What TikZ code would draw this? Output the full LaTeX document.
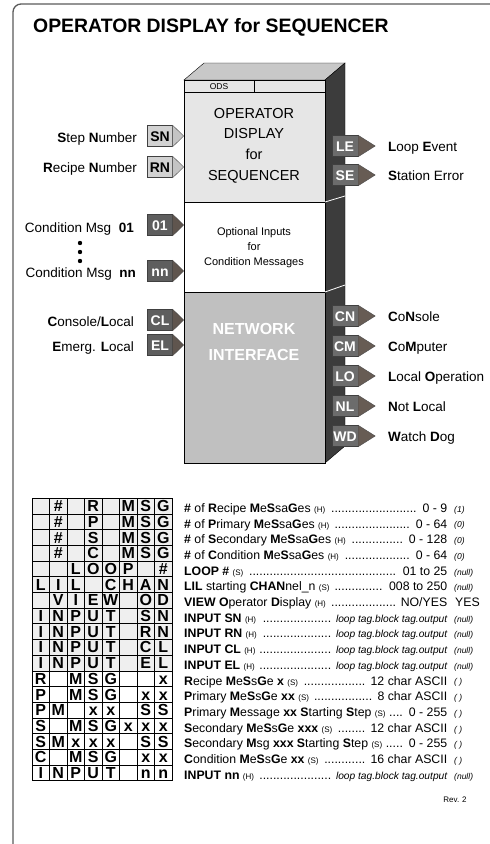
\documentclass[tikz,border=0pt]{standalone}
\usepackage{fontspec}
\setmainfont{Liberation Sans}
\definecolor{pinlight}{HTML}{D2D2D2}
\definecolor{pinlighttip}{HTML}{C4C4C4}
\definecolor{pindark}{HTML}{5E5E5E}
\definecolor{pindarktip}{HTML}{5F554E}
\definecolor{pinout}{HTML}{6C6C6C}
\definecolor{pinouttip}{HTML}{675C54}
\definecolor{faceupper}{HTML}{E6E6E6}
\definecolor{facelower}{HTML}{C0C0C0}
\definecolor{facetop}{HTML}{C8C8C8}
\definecolor{faceside}{HTML}{3C3C3C}
\definecolor{framegray}{HTML}{5A5A5A}
\definecolor{tablegray}{HTML}{EFEFEF}
\newcommand{\fs}[1]{\fontsize{#1}{#1}\selectfont}
\newcommand{\hz}[1]{{\fs{8}#1}}
\newcommand{\tagout}{{\fs{10.2}\itshape loop tag.block tag.output}}
\newcommand{\dotrow}[2]{\hbox to 263pt{#1\ \leaders\hbox{.}\hfill\ #2}}
\tikzset{
  capbox/.style={inner sep=0pt,text depth=0pt},
  inpin/.style={capbox,draw=black!75,fill=pinlight,minimum width=25pt,minimum height=21pt,text height=10pt,font=\fs{14}\bfseries},
  darkpin/.style={inpin,fill=pindark,text=white},
  outpin/.style={inpin,fill=pinout,text=white,minimum width=26pt},
  lbl/.style={capbox,text height=9.7pt,font=\fs{13.5}},
  blocktxt/.style={capbox,text height=10.4pt,font=\fs{14.5}},
  opttxt/.style={capbox,text height=7.9pt,font=\fs{11}},
  nettxt/.style={capbox,text height=11.5pt,font=\fs{16}\bfseries,text=white},
  cell/.style={capbox,draw,minimum width=17.5pt,minimum height=15.7pt,text height=11.5pt,font=\fs{16}\bfseries},
  rowtxt/.style={capbox,anchor=west,text height=8.8pt,font=\fs{12.3}},
  rownote/.style={capbox,anchor=west,text height=6.1pt,font=\fs{8.5}\itshape},
}
\begin{document}
\begin{tikzpicture}[x=1pt,y=-1pt]
\useasboundingbox (0,0) rectangle (490,844);
\draw[framegray,line width=1.3pt,rounded corners=8pt] (13,844) -- (13,4) -- (490,4);
\node[capbox,anchor=west,text height=13.9pt,font=\fs{19.4}\bfseries] (title) at (33,25.5) {OPERATOR DISPLAY for SEQUENCER};

\filldraw[fill=facetop,draw=black] (184,80) -- (204,63) -- (345,63) -- (325,80) -- cycle;
\filldraw[fill=faceside,draw=black] (325,80) -- (345,63) -- (345,446) -- (325,463) -- cycle;
\filldraw[fill=faceupper,draw=black] (184,80) rectangle (325,202);
\filldraw[fill=white,draw=black] (184,202) rectangle (325,292);
\filldraw[fill=facelower,draw=black] (184,292) rectangle (325,463);
\draw (184,92) -- (325,92);
\draw (254,80) -- (254,92);
\draw[white,thick] (325,202) -- (345,196);
\draw[white,thick] (325,292) -- (345,285);

\node[capbox,text height=6.1pt,font=\fs{8.5}] (ods) at (219,86.5) {ODS};
\node[blocktxt] (op1) at (254,113) {OPERATOR};
\node[blocktxt] (op2) at (254,133.5) {DISPLAY};
\node[blocktxt] (op3) at (254,154) {for};
\node[blocktxt] (op4) at (254,175) {SEQUENCER};
\node[opttxt] (opt1) at (254,232) {Optional Inputs};
\node[opttxt] (opt2) at (254,246.5) {for};
\node[opttxt] (opt3) at (254,262) {Condition Messages};
\node[nettxt] (net1) at (254,328.5) {NETWORK};
\node[nettxt] (net2) at (254,355) {INTERFACE};

\node[inpin] (sn) at (160,136) {SN};
\node[inpin] (rn) at (160,167) {RN};
\foreach \p in {sn,rn}
  \filldraw[fill=pinlighttip,draw=black!70] (\p.north east) -- ([xshift=11pt]\p.east) -- (\p.south east) -- cycle;
\node[darkpin] (c01) at (160,225) {01};
\node[darkpin] (cnn) at (160,271) {nn};
\node[darkpin] (cl) at (160,320) {CL};
\node[darkpin] (el) at (160,345) {EL};
\foreach \p in {c01,cnn,cl,el}
  \filldraw[fill=pindarktip,draw=black!70] (\p.north east) -- ([xshift=11pt]\p.east) -- (\p.south east) -- cycle;

\node[lbl,anchor=east] (snl) at (137,138) {\textbf{S}tep \textbf{N}umber};
\node[lbl,anchor=east] (rnl) at (137,168) {\textbf{R}ecipe \textbf{N}umber};
\node[lbl,anchor=east] (c01l) at (134,228) {Condition Msg\ \ \textbf{01}};
\node[lbl,anchor=east] (cnnl) at (136,273) {Condition Msg\ \ \textbf{nn}};
\node[lbl,anchor=east] (cll) at (134,322) {\textbf{C}onsole/\textbf{L}ocal};
\node[lbl,anchor=east] (ell) at (134,347) {\textbf{E}merg. \textbf{L}ocal};
\fill (80,243) circle (2.2);
\fill (80,252) circle (2.2);
\fill (80,261) circle (2.2);

\foreach \nm/\y/\lab in {le/146/{\textbf{L}oop \textbf{E}vent},se/175/{\textbf{S}tation Error},
    cn/316/{\textbf{C}o\textbf{N}sole},cm/346/{\textbf{C}o\textbf{M}puter},lo/376/{\textbf{L}ocal \textbf{O}peration},
    nl/406/{\textbf{N}ot \textbf{L}ocal},wd/436/{\textbf{W}atch \textbf{D}og}}{
  \node[outpin] (\nm) at (345,\y) {\MakeUppercase{\nm}};
  \filldraw[fill=pinouttip,draw=black!70] (\nm.north east) -- ([xshift=17pt]\nm.east) -- (\nm.south east) -- cycle;
  \node[lbl,anchor=west] (\nm l) at (388,\y+1) {\lab};
}

\fill[tablegray] (32,498) rectangle (172,670.7);
\foreach \row [count=\r] in {{,\#,,R,,M,S,G},{,\#,,P,,M,S,G},{,\#,,S,,M,S,G},{,\#,,C,,M,S,G},
    {,,L,O,O,P,,\#},{L,I,L,,C,H,A,N},{,V,I,E,W,,O,D},{I,N,P,U,T,,S,N},{I,N,P,U,T,,R,N},
    {I,N,P,U,T,,C,L},{I,N,P,U,T,,E,L},{R,,M,S,G,,,x},{P,,M,S,G,,x,x},{P,M,,x,x,,S,S},
    {S,,M,S,G,x,x,x},{S,M,x,x,x,,S,S},{C,,M,S,G,,x,x},{I,N,P,U,T,,n,n}}{
  \foreach \ch [count=\c] in \row
    \node[cell] (cell-\r-\c) at ({32+17.5*\c-8.75},{498+15.7*\r-7.85}) {\ch};
}
\draw[line width=1pt] (32,498) rectangle (172,780.6);

\foreach \txt/\val/\nt [count=\r] in {
    {\textbf{\#} of \textbf{R}ecipe \textbf{M}e\textbf{S}sa\textbf{G}es \hz{(H)}}/{0 - 9}/{(1)},
    {\textbf{\#} of \textbf{P}rimary \textbf{M}e\textbf{S}sa\textbf{G}es \hz{(H)}}/{0 - 64}/{(0)},
    {\textbf{\#} of \textbf{S}econdary \textbf{M}e\textbf{S}sa\textbf{G}es \hz{(H)}}/{0 - 128}/{(0)},
    {\textbf{\#} of \textbf{C}ondition \textbf{M}e\textbf{S}sa\textbf{G}es \hz{(H)}}/{0 - 64}/{(0)},
    {\textbf{LOOP \#} \hz{(S)}}/{01 to 25}/{(null)},
    {\textbf{LIL} starting \textbf{CHAN}nel\_n \hz{(S)}}/{008 to 250}/{(null)},
    {\textbf{VIEW O}perator \textbf{D}isplay \hz{(H)}}/{NO/YES}/{},
    {\textbf{INPUT SN} \hz{(H)}}/{\tagout}/{(null)},
    {\textbf{INPUT RN} \hz{(H)}}/{\tagout}/{(null)},
    {\textbf{INPUT CL} \hz{(H)}}/{\tagout}/{(null)},
    {\textbf{INPUT EL} \hz{(H)}}/{\tagout}/{(null)},
    {\textbf{R}ecipe \textbf{M}e\textbf{S}s\textbf{G}e \textbf{x} \hz{(S)}}/{12 char ASCII}/{( )},
    {\textbf{P}rimary \textbf{M}e\textbf{S}s\textbf{G}e \textbf{xx} \hz{(S)}}/{8 char ASCII}/{( )},
    {\textbf{P}rimary \textbf{M}essage \textbf{xx} \textbf{S}tarting \textbf{S}tep \hz{(S)}}/{0 - 255}/{( )},
    {\textbf{S}econdary \textbf{M}e\textbf{S}s\textbf{G}e \textbf{xxx} \hz{(S)}}/{12 char ASCII}/{( )},
    {\textbf{S}econdary \textbf{M}sg \textbf{xxx} \textbf{S}tarting \textbf{S}tep \hz{(S)}}/{0 - 255}/{( )},
    {\textbf{C}ondition \textbf{M}e\textbf{S}s\textbf{G}e \textbf{xx} \hz{(S)}}/{16 char ASCII}/{( )},
    {\textbf{INPUT nn} \hz{(H)}}/{\tagout}/{(null)}}{
  \node[rowtxt] (row\r) at (184,{498+15.7*\r-5.8}) {\dotrow{\txt}{\val}};
  \node[rownote] (note\r) at (454,{498+15.7*\r-4.5}) {\nt};
}
\node[rowtxt] (yes) at (455,{498+15.7*7-5.8}) {YES};
\node[capbox,text height=5.7pt,font=\fs{8}] (rev) at (455,800) {Rev. 2};
\end{tikzpicture}
\end{document}
